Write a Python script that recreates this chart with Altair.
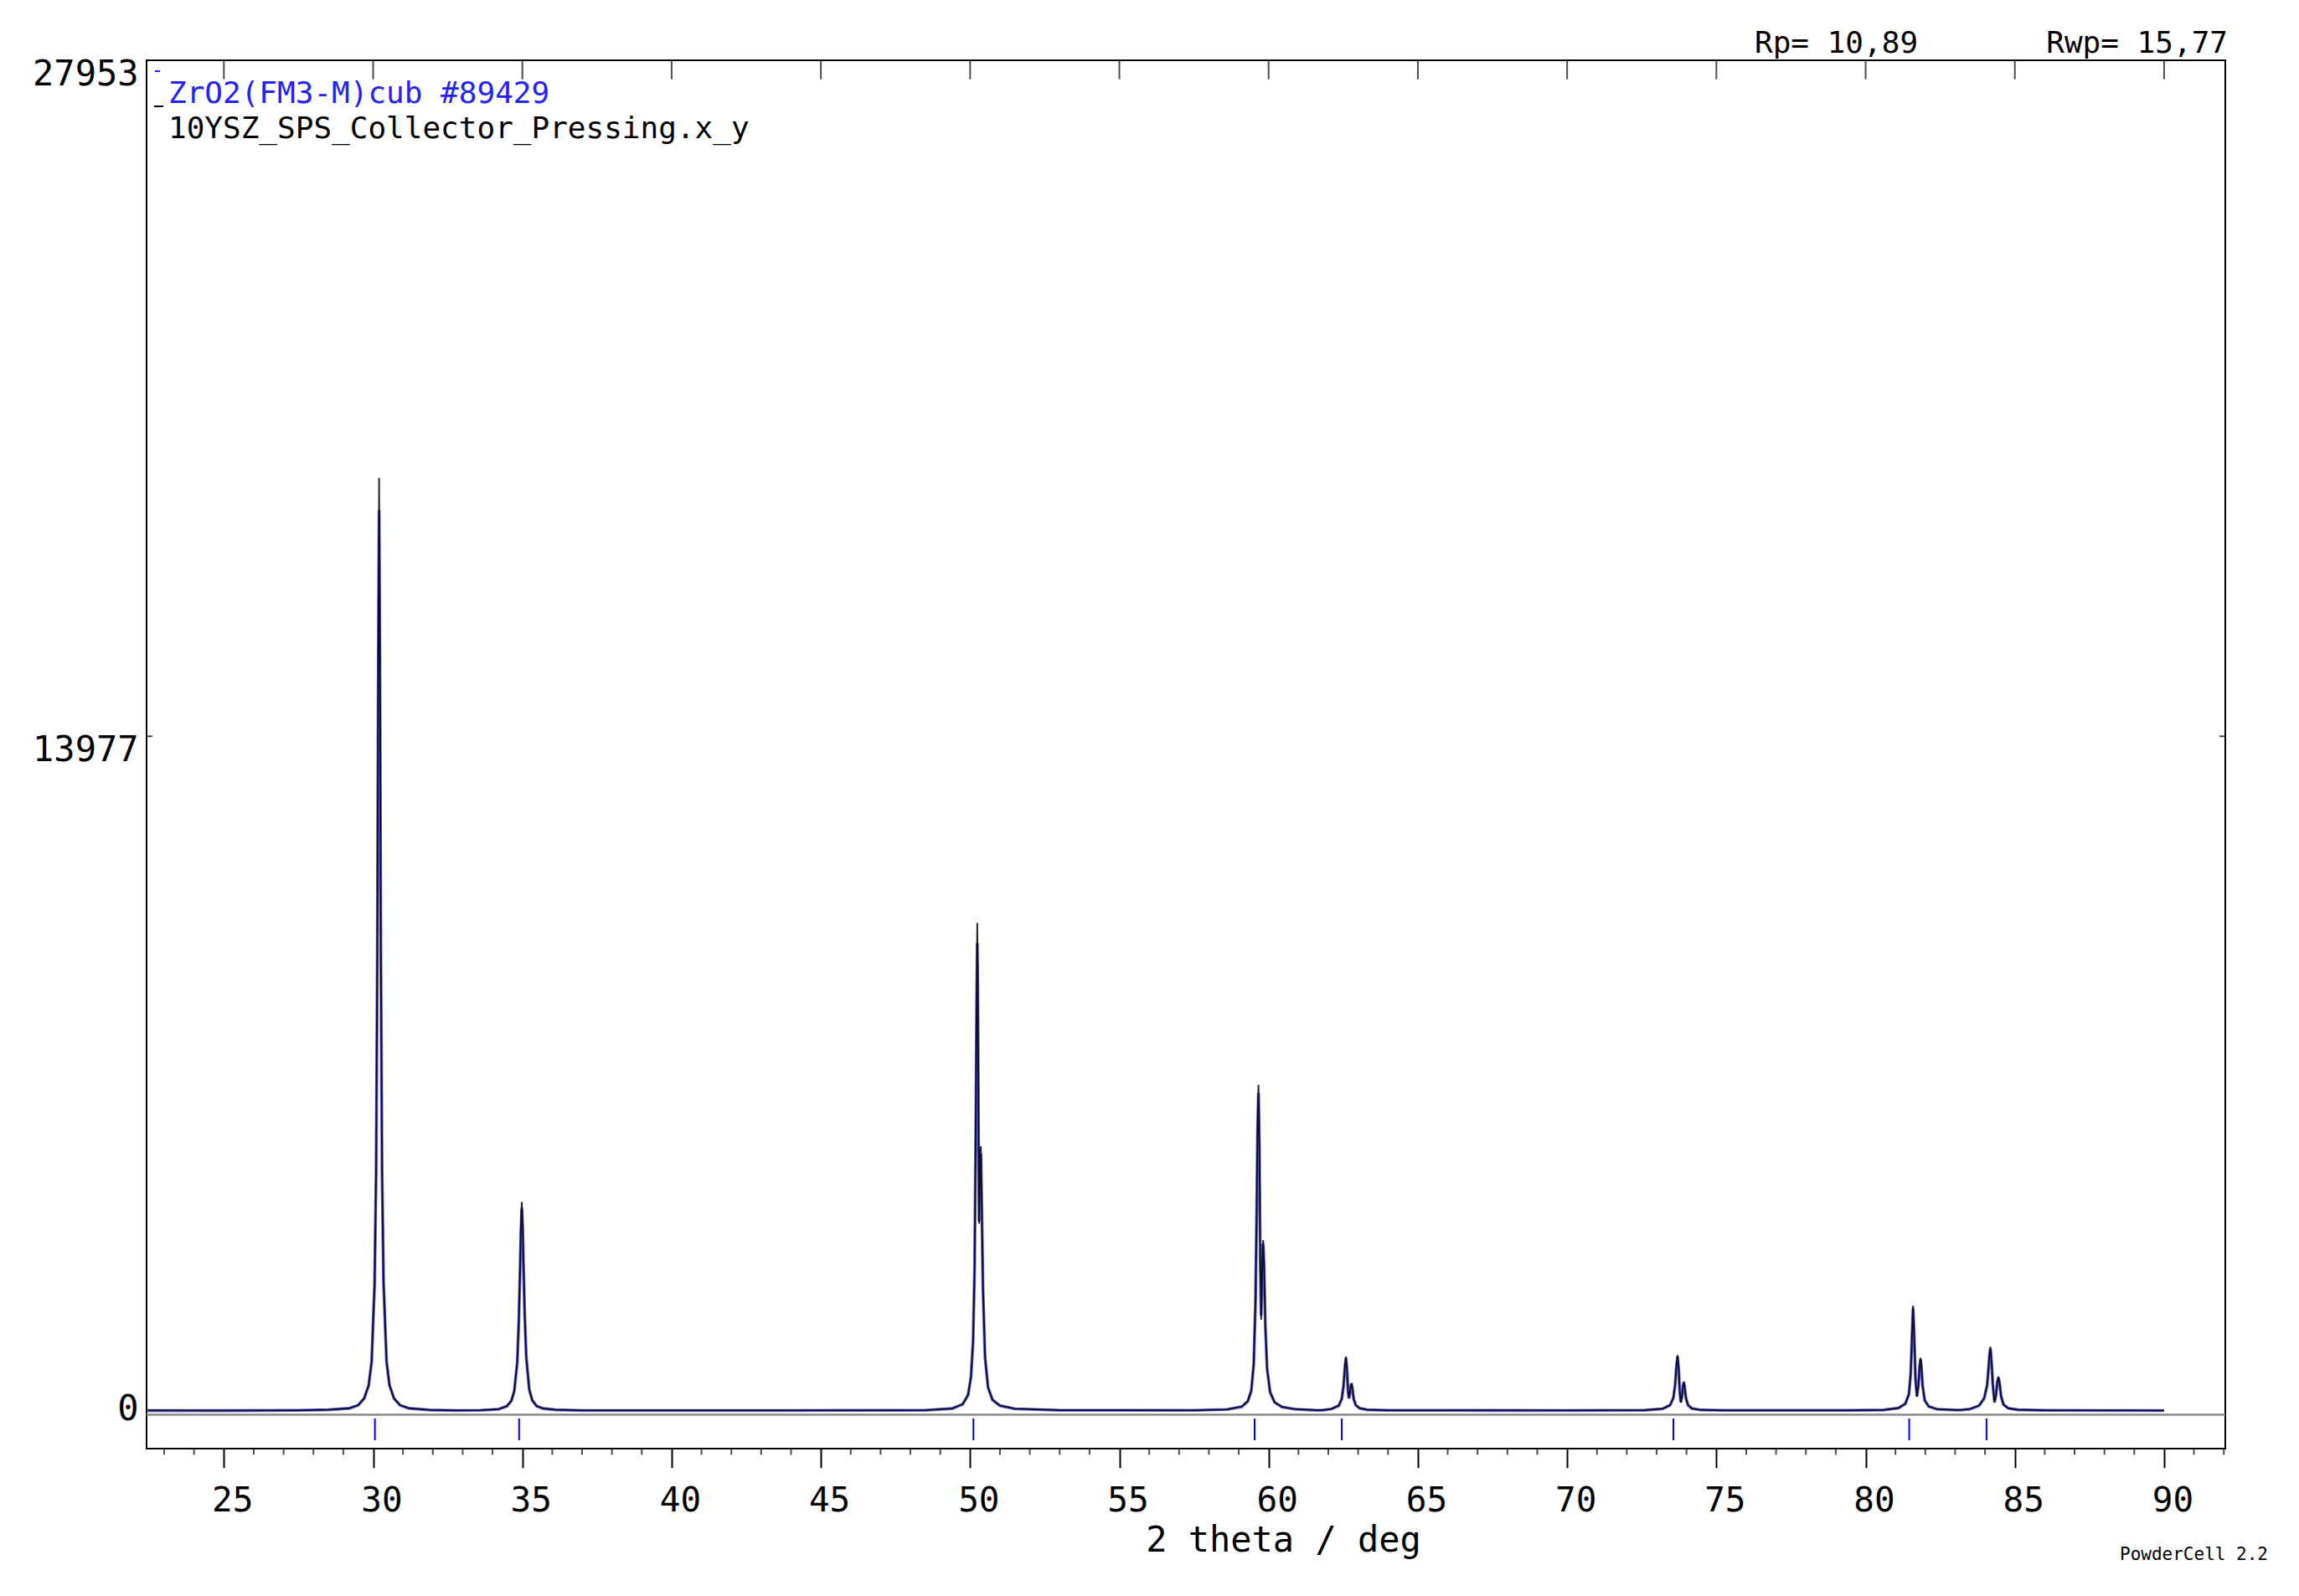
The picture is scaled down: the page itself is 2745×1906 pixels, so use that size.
import altair as alt
import pandas as pd

FONT = "DejaVu Sans Mono"

# ---------------- data ----------------
# 2-theta positions / observed / calculated intensities, peak by peak
x_p1 = [22.45, 25.0, 27.5, 28.5, 29.2, 29.5, 29.7, 29.85, 29.95, 30.05, 30.10, 30.14, 30.17, 30.20,
        30.23, 30.26, 30.30, 30.35, 30.45, 30.55, 30.70, 30.90, 31.20, 31.90, 32.8]
obs_p1 = [40, 38, 42, 55, 85, 150, 290, 560, 1050, 2700, 5000, 9500, 15300, 19320,
          15300, 9500, 5000, 2700, 1050, 560, 290, 150, 85, 50, 40]
calc_p1 = [35, 35, 40, 52, 82, 145, 285, 550, 1040, 2650, 4900, 9300, 14900, 18650,
           14900, 9300, 4900, 2650, 1040, 550, 285, 145, 82, 48, 36]

x_p2 = [33.6, 34.2, 34.48, 34.63, 34.73, 34.83, 34.88, 34.92, 34.95, 34.98, 35.01, 35.04, 35.08,
        35.13, 35.23, 35.33, 35.48, 35.7, 36.1, 37.0]
obs_p2 = [45, 65, 130, 240, 450, 1050, 1900, 2900, 3800, 4347, 3900, 3000, 2000,
          1150, 480, 250, 130, 80, 55, 42]
calc_p2 = [40, 62, 125, 235, 440, 1030, 1880, 2850, 3700, 4220, 3800, 2950, 1980,
           1140, 470, 245, 128, 78, 52, 38]

x_p3 = [40.0, 44.0, 48.5, 49.4, 49.75, 49.93, 50.03, 50.10, 50.15, 50.19, 50.22, 50.24, 50.26,
        50.28, 50.30, 50.32, 50.34, 50.36, 50.39, 50.43, 50.50, 50.60, 50.75, 51.0, 51.5, 53.0]
obs_p3 = [42, 40, 45, 80, 170, 360, 750, 1500, 3000, 6000, 8800, 10116, 8600,
          6000, 3900, 4600, 5400, 5500, 4300, 2600, 1150, 520, 260, 140, 75, 45]
calc_p3 = [38, 38, 42, 78, 165, 350, 730, 1480, 2950, 5900, 8500, 9700, 8400,
           5900, 3950, 4650, 5300, 5350, 4250, 2550, 1130, 510, 255, 135, 72, 42]

x_p4 = [55.0, 57.5, 58.6, 59.1, 59.3, 59.42, 59.50, 59.56, 59.60, 59.63, 59.66, 59.69, 59.72,
        59.75, 59.78, 59.80, 59.82, 59.85, 59.89, 59.95, 60.05, 60.2, 60.45, 60.9, 61.6]
obs_p4 = [45, 42, 60, 120, 230, 450, 1000, 2300, 4200, 5900, 6771, 5600, 3200,
          1915, 2800, 3400, 3560, 3000, 1800, 900, 420, 210, 110, 65, 45]
calc_p4 = [40, 40, 58, 115, 225, 440, 980, 2250, 4100, 5800, 6600, 5500, 3150,
           2000, 2850, 3380, 3480, 2950, 1780, 890, 415, 205, 108, 62, 42]

x_p5 = [61.8, 62.1, 62.35, 62.45, 62.51, 62.55, 62.59, 62.63, 62.66, 62.69, 62.72, 62.75, 62.78,
        62.81, 62.85, 62.92, 63.05, 63.3, 64.0]
obs_p5 = [45, 70, 140, 280, 550, 900, 1153, 850, 450, 287, 380, 540, 605,
          480, 280, 150, 85, 55, 42]
calc_p5 = [42, 68, 135, 275, 540, 880, 1120, 830, 440, 290, 385, 535, 590,
           470, 275, 148, 82, 52, 40]

x_p6 = [66.0, 70.0, 72.6, 73.2, 73.45, 73.56, 73.62, 73.66, 73.70, 73.74, 73.77, 73.81, 73.85,
        73.88, 73.91, 73.94, 73.98, 74.05, 74.18, 74.45, 75.2]
obs_p6 = [42, 40, 45, 75, 150, 300, 580, 950, 1182, 880, 450, 200, 330,
          540, 634, 520, 300, 150, 80, 52, 42]
calc_p6 = [40, 38, 43, 72, 145, 295, 570, 930, 1150, 870, 445, 210, 335,
           535, 620, 510, 295, 148, 78, 50, 40]

x_p7 = [77.0, 79.5, 80.6, 81.1, 81.33, 81.45, 81.51, 81.55, 81.59, 81.63, 81.67, 81.72, 81.77,
        81.81, 81.84, 81.87, 81.91, 81.98, 82.12, 82.4, 83.0]
obs_p7 = [42, 42, 50, 90, 180, 380, 800, 1500, 2204, 1550, 700, 322, 560,
          950, 1124, 950, 550, 250, 120, 65, 48]
calc_p7 = [40, 40, 48, 88, 175, 370, 790, 1480, 2150, 1530, 700, 330, 565,
           940, 1100, 935, 545, 245, 118, 62, 45]

x_p8 = [83.2, 83.5, 83.8, 83.97, 84.07, 84.12, 84.15, 84.18, 84.22, 84.26, 84.32, 84.37, 84.41,
        84.45, 84.49, 84.54, 84.62, 84.78, 85.1, 86.0, 88.0, 90.0]
obs_p8 = [48, 70, 140, 290, 560, 930, 1200, 1355, 1050, 580, 200, 360, 620,
          737, 600, 330, 160, 85, 55, 42, 40, 38]
calc_p8 = [45, 68, 135, 285, 550, 915, 1180, 1320, 1030, 575, 210, 365, 615,
           720, 590, 325, 158, 82, 52, 40, 38, 36]

# reflection positions of ZrO2 (Fm-3m) cubic
reflections = [30.06, 34.89, 50.11, 59.53, 62.45, 73.56, 81.46, 84.05]
refl_top = -128
refl_bottom = -578
zero_line_level = [-50]

x_major = [25, 30, 35, 40, 45, 50, 55, 60, 65, 70, 75, 80, 85, 90]
x_minor = [v for v in range(23, 93) if v % 5 != 0]
y_ticks = [0, 13977, 27953]

X_DOMAIN = [22.41, 92.05]
Y_DOMAIN = [-751, 27953]
W, H = 2482, 1658

# ---------------- build tables ----------------
rows = []
for xs, os_, cs in [(x_p1, obs_p1, calc_p1), (x_p2, obs_p2, calc_p2), (x_p3, obs_p3, calc_p3),
                    (x_p4, obs_p4, calc_p4), (x_p5, obs_p5, calc_p5), (x_p6, obs_p6, calc_p6),
                    (x_p7, obs_p7, calc_p7), (x_p8, obs_p8, calc_p8)]:
    for a, b, c in zip(xs, os_, cs):
        rows.append({"tt": a, "obs": b, "calc": c})
profile = pd.DataFrame(rows)

refl_df = pd.DataFrame({"tt": reflections, "y1": [refl_top] * len(reflections),
                        "y2": [refl_bottom] * len(reflections)})

xscale = alt.Scale(domain=X_DOMAIN, nice=False, zero=False)
yscale = alt.Scale(domain=Y_DOMAIN, nice=False, zero=False)

x_axis = alt.Axis(values=x_major, title="2 theta / deg", grid=False, domain=False,
                  tickSize=22.7, tickWidth=2, tickColor="black", format="d",
                  labelFont=FONT, labelFontSize=41, labelColor="black", labelPadding=20,
                  labelOffset=10, labelFlush=False, labelOverlap=False,
                  titleFont=FONT, titleFontSize=42, titleFontWeight="normal", titleColor="black",
                  titleX=1357, titleY=122, titleAlign="center", titleBaseline="alphabetic")
y_axis = alt.Axis(values=y_ticks, title=None, grid=False, domain=False, ticks=False, format="d",
                  labelFont=FONT, labelFontSize=42, labelColor="black", labelPadding=10,
                  labelBaseline="alphabetic", labelFlush=False, labelOverlap=False,
                  labelOffset={"condition": {"test": "datum.value == 0", "value": 9}, "value": 29})

zero_line = alt.Chart(pd.DataFrame({"y": zero_line_level})).mark_rule(
    color="#888888", strokeWidth=2.5).encode(
    y=alt.Y("y:Q", scale=yscale, axis=y_axis))

calc_line = alt.Chart(profile).mark_line(color="#0000e0", strokeWidth=3.6, opacity=0.6).encode(
    x=alt.X("tt:Q", scale=xscale, axis=x_axis),
    y=alt.Y("calc:Q", scale=yscale, axis=y_axis))

obs_line = alt.Chart(profile).mark_line(color="black", strokeWidth=2, opacity=0.85).encode(
    x=alt.X("tt:Q", scale=xscale),
    y=alt.Y("obs:Q", scale=yscale))

refl_marks = alt.Chart(refl_df).mark_rule(color="#0000ff", strokeWidth=2).encode(
    x=alt.X("tt:Q", scale=xscale),
    y=alt.Y("y1:Q", scale=yscale),
    y2="y2:Q")

top_ticks = alt.Chart(pd.DataFrame({"tt": x_major})).mark_tick(
    color="black", thickness=2, size=22.7, orient="vertical").encode(
    x=alt.X("tt:Q", scale=xscale), y=alt.value(11.35))

minor_ticks = alt.Chart(pd.DataFrame({"tt": x_minor})).mark_tick(
    color="black", thickness=2, size=7.3, orient="vertical").encode(
    x=alt.X("tt:Q", scale=xscale), y=alt.value(H + 3.65))

side_tick_df = pd.DataFrame({"v": [y_ticks[1]]})
left_tick = alt.Chart(side_tick_df).mark_tick(
    color="black", thickness=2, size=7, orient="horizontal").encode(
    y=alt.Y("v:Q", scale=yscale), x=alt.value(3.5))
right_tick = alt.Chart(side_tick_df).mark_tick(
    color="black", thickness=2, size=7, orient="horizontal").encode(
    y=alt.Y("v:Q", scale=yscale), x=alt.value(W - 3.5))

# legend dashes (phase / observed)
leg_blue = alt.Chart(pd.DataFrame({"a": [0]})).mark_rule(color="#2222ff", strokeWidth=2).encode(
    x=alt.value(10), x2=alt.value(16), y=alt.value(13))
leg_black = alt.Chart(pd.DataFrame({"a": [0]})).mark_rule(color="black", strokeWidth=2).encode(
    x=alt.value(9), x2=alt.value(20), y=alt.value(55))


def label(txt, x, y, color="black", size=36, align="left"):
    return alt.Chart(pd.DataFrame({"t": [txt]})).mark_text(
        font=FONT, fontSize=size, color=color, align=align, baseline="alphabetic").encode(
        x=alt.value(x), y=alt.value(y), text="t:N")


texts = [
    label("ZrO2(FM3-M)cub #89429", 26, 51, color="#2222ff"),
    label("10YSZ_SPS_Collector_Pressing.x_y", 26, 93),
    label("Rp= 10,89", 1920, -9),
    label("Rwp= 15,77", 2485, -9, align="right"),
    label("PowderCell 2.2", 2356, 1791, size=21),
]

chart = alt.layer(zero_line, calc_line, obs_line, refl_marks, top_ticks, minor_ticks,
                  left_tick, right_tick, leg_blue, leg_black, *texts).properties(
    width=W, height=H,
    autosize=alt.AutoSizeParams(type="none"),
    padding={"left": 167, "top": 64, "right": 70, "bottom": 160},
    background="white",
).configure_view(stroke="black", strokeWidth=2)

chart.save("out.html", embed_options={"renderer": "svg", "actions": False})
